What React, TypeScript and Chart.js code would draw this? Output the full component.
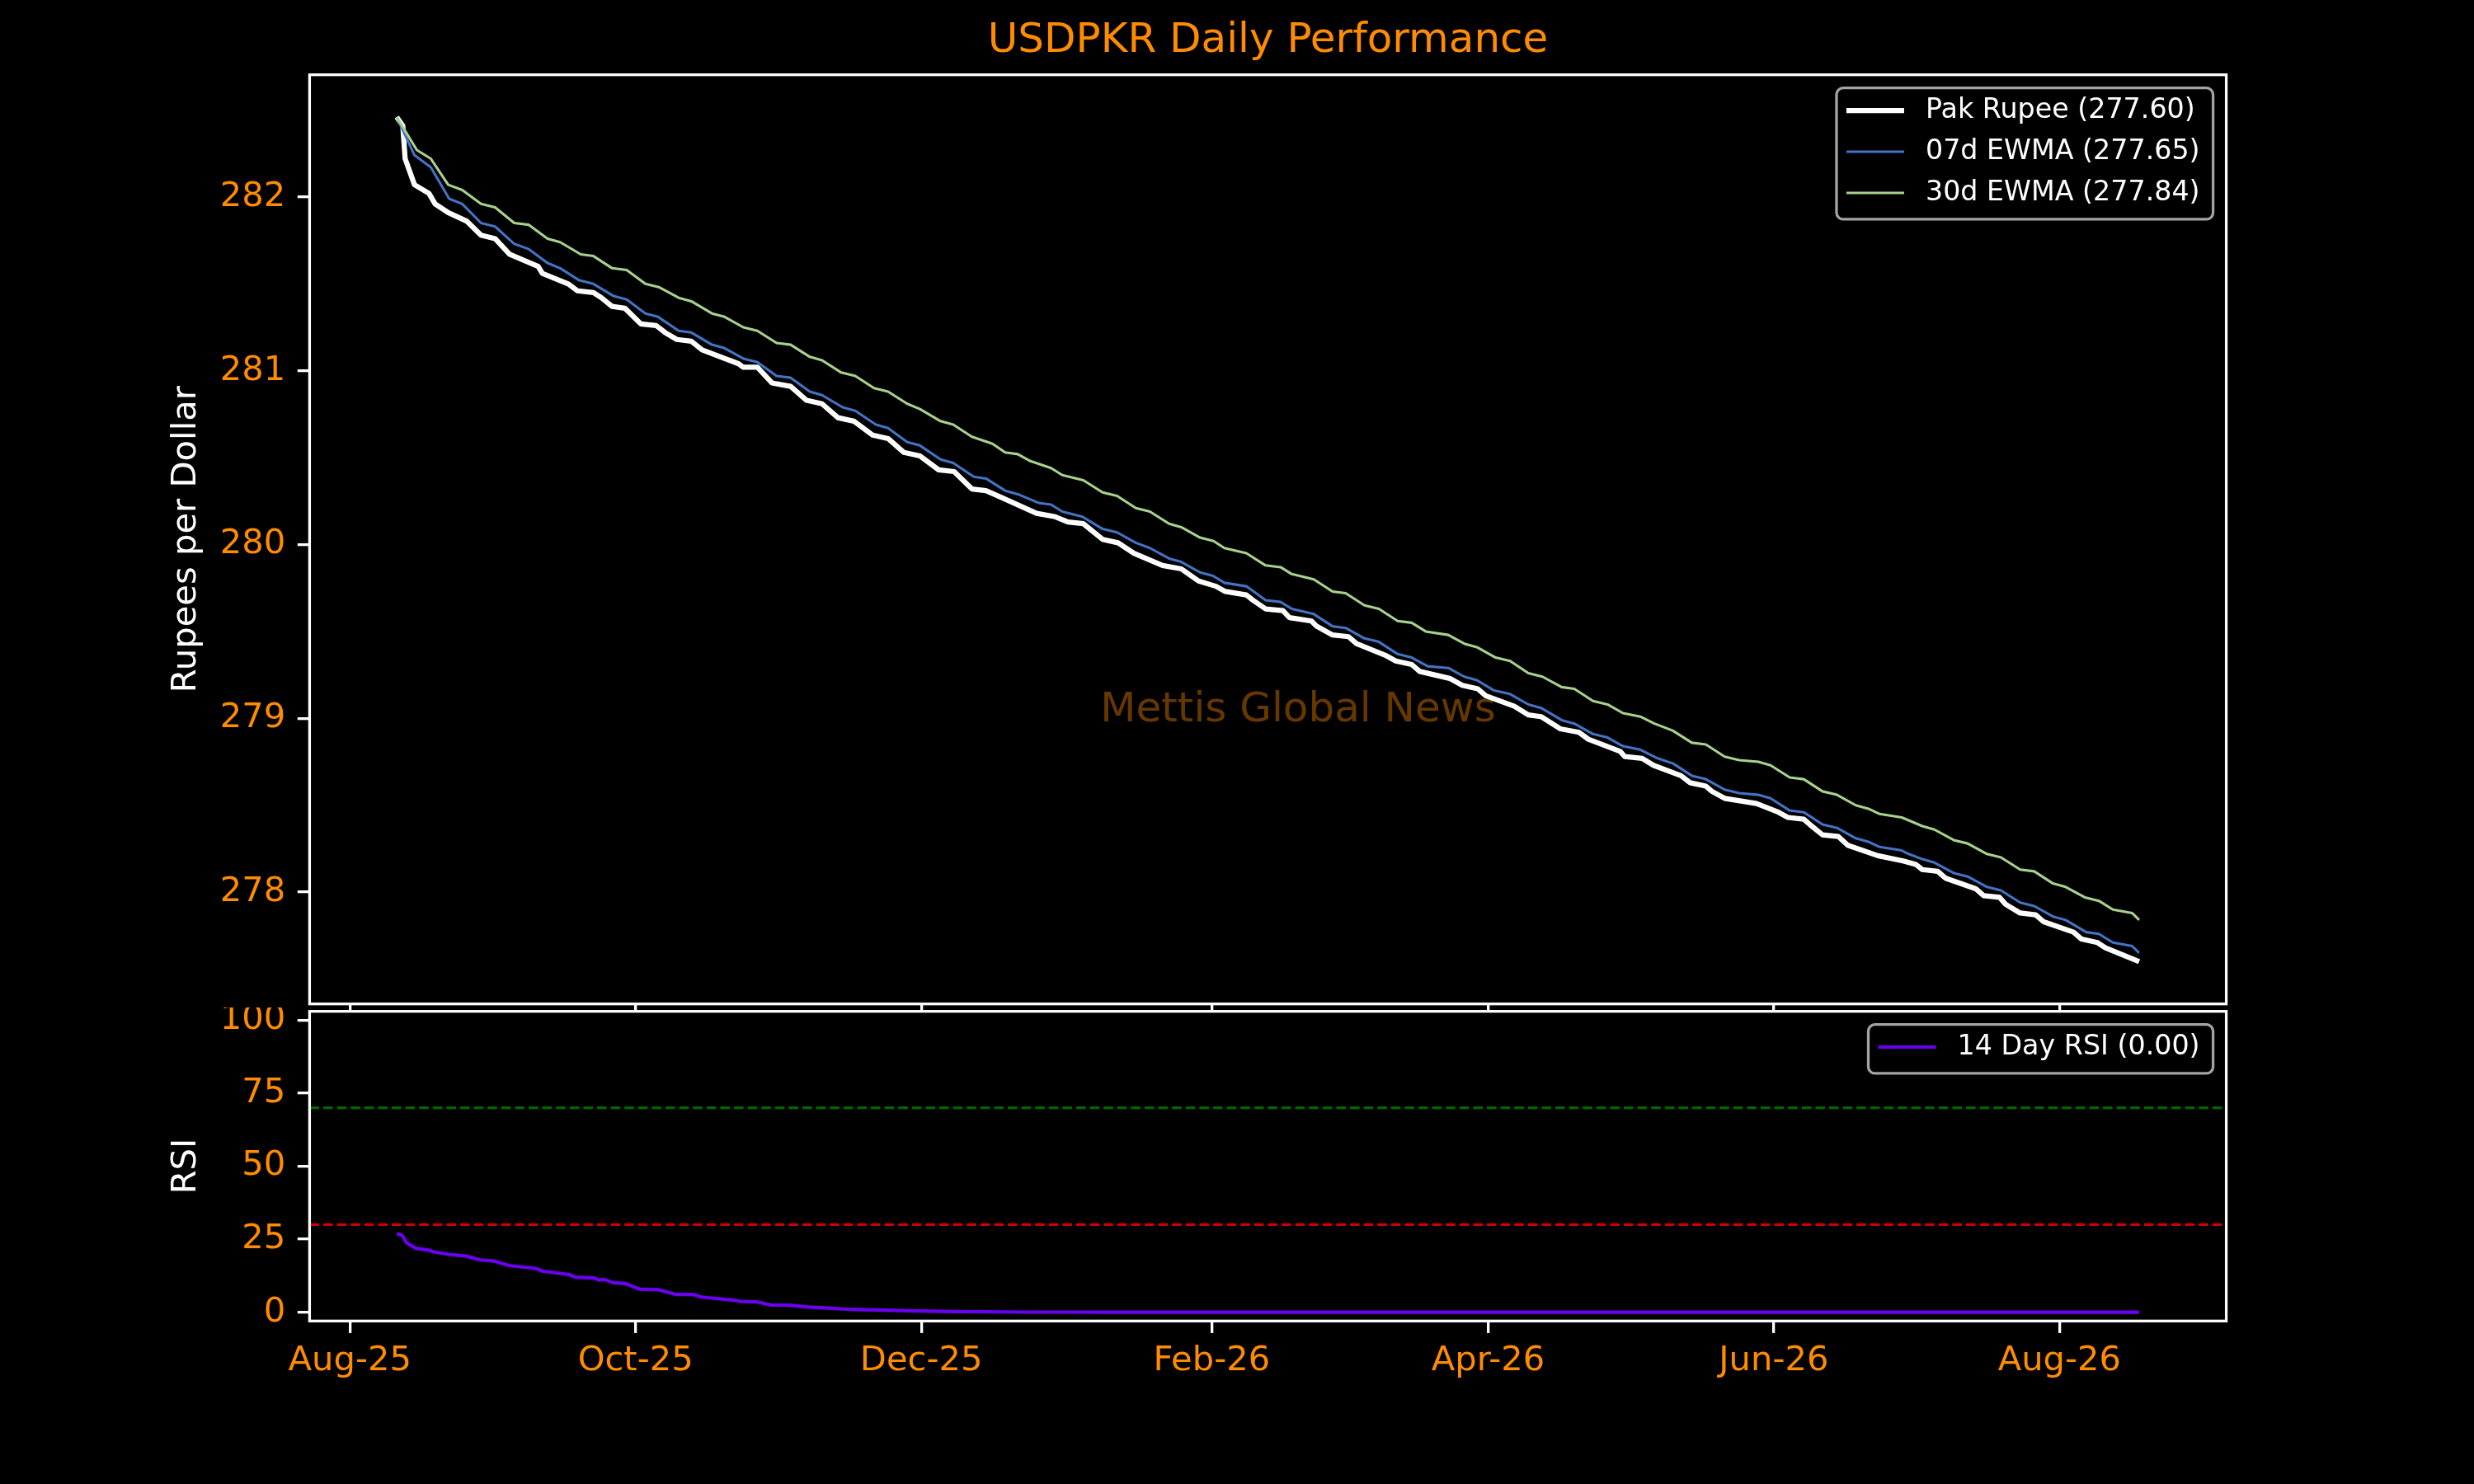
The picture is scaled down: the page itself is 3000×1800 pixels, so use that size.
import React, { useEffect, useRef } from "react";
import { Chart, registerables } from "chart.js";

Chart.register(...registerables);
Chart.defaults.font.family = "'DejaVu Sans', sans-serif";

// x = days after 1 Aug 2025
const tickDays = [0, 61, 122, 184, 243, 304, 365];
const tickLabels = ["Aug-25", "Oct-25", "Dec-25", "Feb-26", "Apr-26", "Jun-26", "Aug-26"];
const priceTicks = [278, 279, 280, 281, 282];
const rsiTicks = [0, 25, 50, 75, 100];
const rsiLevels = [70, 30];

const rupee: [number, number][] = [
  [10, 282.46], [11.3, 282.41], [11.8, 282.22], [13.8, 282.07], [16.9, 282.02], [18.2, 281.96],
  [21, 281.91], [25, 281.86], [28, 281.78], [31, 281.76], [34.1, 281.67], [40.2, 281.6],
  [41.1, 281.56], [46.6, 281.5], [48.6, 281.46], [52, 281.45], [53.7, 281.42], [56, 281.37],
  [58.7, 281.36], [62.1, 281.27], [65.4, 281.26], [67.3, 281.22], [69.8, 281.18], [72.9, 281.17],
  [75.2, 281.12], [83, 281.04], [84, 281.02], [87, 281.02], [90.1, 280.93], [94.1, 280.91],
  [97.5, 280.83], [100.8, 280.81], [104.2, 280.73], [107.6, 280.71], [111.6, 280.63], [114.9, 280.61],
  [118.3, 280.53], [121.7, 280.51], [125.7, 280.43], [129, 280.42], [132.8, 280.32], [135.8, 280.31],
  [139.2, 280.27], [146.6, 280.18], [150.6, 280.16], [153.3, 280.13], [156.6, 280.12], [160.7, 280.03],
  [164, 280.01], [167.4, 279.95], [173.5, 279.88], [177.5, 279.86], [181.2, 279.79], [184.9, 279.76],
  [186.9, 279.73], [191.4, 279.71], [192.8, 279.68], [195.5, 279.63], [199.2, 279.62], [200.6, 279.58],
  [205.3, 279.56], [206.4, 279.53], [209.8, 279.48], [213.2, 279.47], [214.9, 279.43], [221.3, 279.36],
  [223.3, 279.33], [226.7, 279.31], [228.4, 279.27], [234.8, 279.23], [237.5, 279.19], [240.8, 279.17],
  [242.5, 279.13], [248.6, 279.07], [251.6, 279.02], [254.3, 279.01], [258.4, 278.94], [262.4, 278.92],
  [264.4, 278.88], [271.2, 278.81], [272.2, 278.78], [275.9, 278.77], [278.3, 278.73], [284.2, 278.67],
  [286.1, 278.63], [289.5, 278.61], [290.8, 278.58], [293.5, 278.54], [300.3, 278.51], [305, 278.46],
  [307, 278.43], [310.4, 278.42], [312.1, 278.38], [314.4, 278.33], [317.8, 278.32], [319.8, 278.27],
  [326.2, 278.21], [331.6, 278.18], [334.3, 278.16], [335.7, 278.13], [339, 278.12], [340.7, 278.08],
  [347.1, 278.02], [348.8, 277.98], [352.2, 277.97], [353.5, 277.93], [356.6, 277.88], [359.9, 277.87],
  [361.6, 277.83], [368, 277.77], [369.7, 277.73], [373.1, 277.71], [374.8, 277.68], [382, 277.6],
];

const ewma07: [number, number][] = [
  [10, 282.46], [13.8, 282.24], [17.3, 282.17], [21.2, 281.99], [24, 281.96], [28, 281.85],
  [31, 281.83], [35.1, 281.73], [38.2, 281.7], [42.2, 281.62], [44.9, 281.59], [49, 281.52],
  [52, 281.5], [56.3, 281.43], [59.1, 281.41], [63.1, 281.33], [65.8, 281.31], [70.2, 281.23],
  [72.9, 281.22], [77.3, 281.15], [80, 281.13], [84, 281.07], [87, 281.05], [91.1, 280.97],
  [94.1, 280.96], [98.2, 280.88], [100.8, 280.86], [105.2, 280.79], [107.9, 280.77], [112.3, 280.69],
  [114.9, 280.67], [119, 280.59], [121.7, 280.57], [126.1, 280.49], [128.8, 280.47], [133.2, 280.39],
  [135.8, 280.38], [139.9, 280.31], [142.6, 280.29], [147, 280.24], [149.7, 280.23], [152.1, 280.19],
  [156.4, 280.16], [160.7, 280.09], [163.8, 280.07], [167.8, 280.01], [170.8, 279.98], [174.9, 279.92],
  [177.5, 279.9], [181.5, 279.84], [184.3, 279.82], [186.7, 279.78], [191.4, 279.76], [195.5, 279.68],
  [198.7, 279.67], [201.1, 279.63], [205.8, 279.6], [209.8, 279.53], [212.6, 279.52], [216.6, 279.46],
  [219.7, 279.44], [223.7, 279.37], [226.7, 279.35], [230.1, 279.3], [234.5, 279.29], [237.9, 279.24],
  [240.6, 279.22], [244.3, 279.16], [247.7, 279.14], [251.6, 279.08], [254.3, 279.06], [258.7, 278.99],
  [261.4, 278.97], [265.4, 278.91], [268.5, 278.89], [271.8, 278.84], [275.5, 278.82], [279.2, 278.77],
  [282.5, 278.74], [286.5, 278.67], [289.5, 278.65], [293.5, 278.59], [296.6, 278.57], [300.7, 278.56],
  [303.3, 278.54], [307.4, 278.47], [310.4, 278.46], [314.4, 278.39], [317.5, 278.37], [321.5, 278.31],
  [324.2, 278.29], [326.6, 278.26], [331.3, 278.24], [332.8, 278.22], [335.7, 278.19], [338.3, 278.17],
  [342.4, 278.11], [345.4, 278.09], [349.5, 278.03], [352.5, 278.01], [356.6, 277.94], [359.6, 277.92],
  [363.6, 277.86], [366.3, 277.84], [370.7, 277.77], [373.4, 277.76], [376.4, 277.71], [380.5, 277.69],
  [382, 277.65],
];

const ewma30: [number, number][] = [
  [10, 282.46], [14.3, 282.27], [17.3, 282.22], [21, 282.07], [24, 282.04], [28, 281.96],
  [31, 281.94], [35.1, 281.85], [38.2, 281.84], [42.2, 281.76], [44.9, 281.74], [49.3, 281.67],
  [52, 281.66], [56, 281.59], [59.1, 281.58], [63.1, 281.5], [66.1, 281.48], [70.2, 281.42],
  [72.9, 281.4], [77.3, 281.33], [80, 281.31], [84, 281.25], [87, 281.23], [91.1, 281.16],
  [94.1, 281.15], [98.2, 281.08], [100.8, 281.06], [104.9, 280.99], [107.9, 280.97], [111.9, 280.9],
  [114.9, 280.88], [119, 280.81], [121.7, 280.78], [126.1, 280.71], [128.8, 280.69], [132.8, 280.62],
  [137.2, 280.58], [139.9, 280.53], [142.6, 280.52], [145.3, 280.48], [149.7, 280.44], [152.1, 280.4],
  [156.6, 280.37], [160.7, 280.3], [163.8, 280.28], [167.8, 280.21], [170.8, 280.19], [174.9, 280.12],
  [177.5, 280.1], [181.5, 280.04], [184.4, 280.02], [186.7, 279.98], [191.4, 279.95], [195.5, 279.88],
  [198.7, 279.87], [201.1, 279.83], [205.8, 279.8], [209.8, 279.73], [212.6, 279.72], [216.6, 279.65],
  [219.7, 279.63], [223.7, 279.56], [226.7, 279.55], [229.7, 279.5], [234.5, 279.48], [237.9, 279.43],
  [240.6, 279.41], [244.6, 279.35], [247.7, 279.33], [251.6, 279.26], [254.6, 279.24], [258.7, 279.18],
  [261.4, 279.17], [265.4, 279.1], [268.5, 279.08], [271.8, 279.03], [275.5, 279.01], [278.5, 278.97],
  [282.4, 278.93], [286.5, 278.86], [289.5, 278.85], [293.5, 278.78], [296.6, 278.76], [300.7, 278.75],
  [303.3, 278.73], [307.4, 278.66], [310.4, 278.65], [314.4, 278.58], [317.5, 278.56], [321.5, 278.5],
  [324.2, 278.48], [326.6, 278.45], [331.3, 278.43], [333.1, 278.41], [335.7, 278.38], [338.3, 278.36],
  [342.4, 278.3], [345.4, 278.28], [349.5, 278.22], [352.5, 278.2], [356.6, 278.13], [359.6, 278.12],
  [363.6, 278.05], [366.3, 278.03], [370.4, 277.97], [373.4, 277.95], [376.4, 277.9], [380.5, 277.88],
  [382, 277.84],
];

const rsi14: [number, number][] = [
  [10, 26.9], [11.1, 26.4], [12.1, 23.8], [14.1, 21.9], [17.1, 21.2], [17.5, 20.8], [21.2, 19.8],
  [24.9, 19.2], [27.9, 17.9], [30.9, 17.5], [34, 16], [39.7, 15], [41.1, 14.1], [46.8, 12.9],
  [48.2, 12], [52.2, 11.7], [53.2, 11], [54.2, 11.3], [56.2, 10.1], [58.9, 9.8], [61.9, 7.9],
  [65.9, 7.7], [69.6, 6.1], [73.3, 6.1], [75, 5.2], [81.7, 4.2], [83.4, 3.7], [87.1, 3.5],
  [89.8, 2.5], [93.9, 2.4], [97.9, 1.8], [102, 1.4], [105.3, 1.1], [108.6, 0.95], [119, 0.5],
  [129, 0.2], [145, 0.05], [165, 0], [382, 0],
];

const ORANGE = "#ff8c00";
const FONT = "'DejaVu Sans', sans-serif";
const TICK_LEN = 14.6;
const SPINE = 3.3;

const pts = (s: [number, number][]) => s.map(([x, y]) => ({ x, y }));
const last = (s: [number, number][]) => s[s.length - 1][1];

const firstDay = rupee[0][0];
const lastDay = rupee[rupee.length - 1][0];
const xPad = (lastDay - firstDay) * 0.05;
const xMin = firstDay - xPad;
const xMax = lastDay + xPad;

const allPrices = [...rupee, ...ewma07, ...ewma30].map((p) => p[1]);
const pLo = Math.min(...allPrices);
const pHi = Math.max(...allPrices);
const yPad = (pHi - pLo) * 0.05;

const framePlugin = {
  id: "frame",
  afterDatasetsDraw(chart: any) {
    const { ctx, chartArea: a } = chart;
    ctx.save();
    ctx.strokeStyle = "#ffffff";
    ctx.lineWidth = SPINE;
    ctx.strokeRect(a.left, a.top, a.right - a.left, a.bottom - a.top);
    ctx.restore();
  },
};

const boxLegendPlugin = {
  id: "boxLegend",
  afterDraw(chart: any, _args: any, opts: any) {
    const items = opts && opts.items;
    if (!items) return;
    const { ctx, chartArea: a } = chart;
    ctx.save();
    ctx.font = `33.3px ${FONT}`;
    const textW = Math.max(...items.map((it: any) => ctx.measureText(it.text).width));
    const w = 12 + 70 + 26 + textW + 16;
    const h = 27.3 + (items.length - 1) * 50 + 31.9;
    const right = a.right - 16;
    const left = right - w;
    const top = a.top + 16;
    ctx.beginPath();
    ctx.roundRect(left, top, w, h, 8);
    ctx.fillStyle = "#000000";
    ctx.fill();
    ctx.strokeStyle = "#a3a3a3";
    ctx.lineWidth = SPINE;
    ctx.stroke();
    items.forEach((it: any, i: number) => {
      const y = top + 27.3 + i * 50;
      ctx.beginPath();
      ctx.strokeStyle = it.color;
      ctx.lineWidth = it.width;
      ctx.moveTo(left + 12, y);
      ctx.lineTo(left + 82, y);
      ctx.stroke();
      ctx.fillStyle = "#ffffff";
      ctx.textAlign = "left";
      ctx.textBaseline = "middle";
      ctx.fillText(it.text, left + 108, y);
    });
    ctx.restore();
  },
};

const watermarkPlugin = {
  id: "watermark",
  beforeDatasetsDraw(chart: any) {
    const { ctx, chartArea: a } = chart;
    ctx.save();
    ctx.font = `50px ${FONT}`;
    ctx.fillStyle = "rgba(255,140,0,0.4)";
    ctx.textAlign = "center";
    ctx.textBaseline = "middle";
    ctx.fillText(
      "Mettis Global News",
      a.left + (a.right - a.left) * 0.5157,
      a.top + (a.bottom - a.top) * 0.6844
    );
    ctx.restore();
  },
};

const xScale = (showLabels: boolean, height: number) => ({
  type: "linear" as const,
  min: xMin,
  max: xMax,
  afterBuildTicks: (axis: any) => {
    axis.ticks = tickDays.map((v) => ({ value: v }));
  },
  afterFit: (axis: any) => {
    axis.height = height;
    axis.paddingLeft = 0;
    axis.paddingRight = 0;
    axis.paddingTop = 0;
    axis.paddingBottom = 0;
  },
  ticks: {
    autoSkip: false,
    maxRotation: 0,
    color: ORANGE,
    padding: 9,
    font: { size: 41.7, family: FONT },
    callback: (value: any) => (showLabels ? tickLabels[tickDays.indexOf(Number(value))] ?? "" : ""),
  },
  grid: {
    drawOnChartArea: false,
    drawTicks: true,
    tickLength: TICK_LEN,
    color: "#ffffff",
    lineWidth: SPINE,
  },
  border: { display: false },
});

const yScale = (min: number, max: number, ticks: number[], title: string) => ({
  type: "linear" as const,
  min,
  max,
  afterBuildTicks: (axis: any) => {
    axis.ticks = ticks.map((v) => ({ value: v }));
  },
  afterFit: (axis: any) => {
    axis.width = 375.4;
    axis.paddingLeft = 0;
    axis.paddingRight = 0;
    axis.paddingTop = 0;
    axis.paddingBottom = 0;
  },
  ticks: {
    color: ORANGE,
    padding: TICK_LEN,
    font: { size: 41.7, family: FONT },
  },
  grid: {
    drawOnChartArea: false,
    drawTicks: true,
    tickLength: TICK_LEN,
    color: "#ffffff",
    lineWidth: SPINE,
  },
  border: { display: false },
  title: {
    display: true,
    text: title,
    color: "#ffffff",
    font: { size: 41.7, family: FONT },
    padding: { top: 201, bottom: 0 },
  },
});

export default function App() {
  const mainRef = useRef<HTMLCanvasElement>(null);
  const rsiRef = useRef<HTMLCanvasElement>(null);

  useEffect(() => {
    const charts: Chart[] = [];

    if (mainRef.current) {
      charts.push(
        new Chart(mainRef.current, {
          type: "line",
          data: {
            datasets: [
              {
                label: "Pak Rupee",
                data: pts(rupee),
                borderColor: "#ffffff",
                borderWidth: 6.25,
                order: 3,
              },
              {
                label: "07d EWMA",
                data: pts(ewma07),
                borderColor: "#4472c4",
                borderWidth: 3.1,
                order: 2,
              },
              {
                label: "30d EWMA",
                data: pts(ewma30),
                borderColor: "#a9d18e",
                borderWidth: 3.1,
                order: 1,
              },
            ],
          },
          options: {
            animation: false,
            responsive: false,
            layout: { padding: { top: 0, left: 0, right: 300.4, bottom: 0 }, autoPadding: false },
            elements: {
              point: { radius: 0 },
              line: { tension: 0, borderJoinStyle: "round" },
            },
            scales: {
              x: xScale(false, 1226 - 1217.7),
              y: yScale(pLo - yPad, pHi + yPad, priceTicks, "Rupees per Dollar"),
            },
            plugins: {
              legend: { display: false },
              tooltip: { enabled: false },
              title: {
                display: true,
                fullSize: false,
                text: "USDPKR Daily Performance",
                color: ORANGE,
                font: { size: 50, family: FONT, weight: "normal" },
                padding: { top: 20, bottom: 10.7 },
              },
              boxLegend: {
                items: [
                  { text: `Pak Rupee (${last(rupee).toFixed(2)})`, color: "#ffffff", width: 6.25 },
                  { text: `07d EWMA (${last(ewma07).toFixed(2)})`, color: "#4472c4", width: 3.1 },
                  { text: `30d EWMA (${last(ewma30).toFixed(2)})`, color: "#a9d18e", width: 3.1 },
                ],
              },
            } as any,
          },
          plugins: [watermarkPlugin, framePlugin, boxLegendPlugin],
        })
      );
    }

    if (rsiRef.current) {
      charts.push(
        new Chart(rsiRef.current, {
          type: "line",
          data: {
            datasets: [
              {
                label: "14 Day RSI",
                data: pts(rsi14),
                borderColor: "#6b00f0",
                borderWidth: 4.2,
                order: 1,
              },
              {
                label: "_overbought",
                data: [
                  { x: xMin, y: rsiLevels[0] },
                  { x: xMax, y: rsiLevels[0] },
                ],
                borderColor: "rgba(0,128,0,0.8)",
                borderWidth: 3.1,
                borderDash: [11.6, 5],
                order: 2,
              },
              {
                label: "_oversold",
                data: [
                  { x: xMin, y: rsiLevels[1] },
                  { x: xMax, y: rsiLevels[1] },
                ],
                borderColor: "rgba(255,0,0,0.8)",
                borderWidth: 3.1,
                borderDash: [11.6, 5],
                order: 3,
              },
            ],
          },
          options: {
            animation: false,
            responsive: false,
            layout: { padding: { top: 4.7, left: 0, right: 300.4, bottom: 0 }, autoPadding: false },
            elements: {
              point: { radius: 0 },
              line: { tension: 0, borderJoinStyle: "round" },
            },
            scales: {
              x: xScale(true, 578 - 380.3),
              y: yScale(-3, 103, rsiTicks, "RSI"),
            },
            plugins: {
              legend: { display: false },
              tooltip: { enabled: false },
              boxLegend: {
                items: [
                  { text: `14 Day RSI (${last(rsi14).toFixed(2)})`, color: "#6b00f0", width: 4.2 },
                ],
              },
            } as any,
          },
          plugins: [framePlugin, boxLegendPlugin],
        })
      );
    }

    return () => {
      charts.forEach((c) => c.destroy());
    };
  }, []);

  return (
    <div
      style={{
        position: "fixed",
        left: 0,
        top: 0,
        width: 3000,
        height: 1800,
        background: "#000000",
        overflow: "hidden",
      }}
    >
      <canvas
        ref={mainRef}
        width={3000}
        height={1226}
        style={{ position: "absolute", left: 0, top: 0, width: 3000, height: 1226 }}
      />
      <canvas
        ref={rsiRef}
        width={3000}
        height={578}
        style={{ position: "absolute", left: 0, top: 1222, width: 3000, height: 578 }}
      />
    </div>
  );
}
